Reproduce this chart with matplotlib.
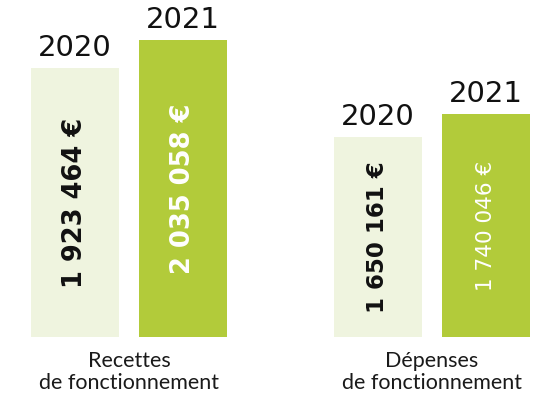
import numpy as np
from matplotlib import pyplot as plt

# data
groups = ['Recettes\nde fonctionnement', 'Dépenses\nde fonctionnement']
years = ['2020', '2021']
values_2020 = [1923464, 1650161]
values_2021 = [2035058, 1740046]

light = '#EFF4DF'
green = '#B2CB3A'


def euro(v):
    return f'{v:,}'.replace(',', ' ') + ' €'


fig = plt.figure(figsize=(5.57, 4.01), dpi=100)
ax = fig.add_axes([0, 64 / 401, 1, 337 / 401])

centers = np.array([0.0, 2.8])
width = 0.81
x20 = centers - 0.5
x21 = centers + 0.5

ax.bar(x20, values_2020, width=width, color=light)
ax.bar(x21, values_2021, width=width, color=green)

# the picture does not start its bars at zero
ax.set_ylim(853500, 2196000)
ax.set_xlim(-1.193, 3.957)
ax.axis('off')

# year above each bar
for xs, vals, yr in [(x20, values_2020, years[0]), (x21, values_2021, years[1])]:
    for x, v in zip(xs, vals):
        ax.annotate(yr, (x, v), xytext=(0, 9), textcoords='offset points',
                    ha='center', va='baseline', fontsize=21, color='#111111')

# value inside each bar
ymin = ax.get_ylim()[0]
sizes_20 = [18.5, 16.5]
sizes_21 = [18.5, 15.5]
weights_21 = ['bold', 'normal']
for x, v, s in zip(x20, values_2020, sizes_20):
    ax.text(x, (v + ymin) / 2, euro(v), rotation=90, ha='center', va='center',
            fontsize=s, fontweight='bold', color='#111111')
for x, v, s, w in zip(x21, values_2021, sizes_21, weights_21):
    ax.text(x, (v + ymin) / 2, euro(v), rotation=90, ha='center', va='center',
            fontsize=s, fontweight=w, color='white')

# group names under the bars
for c, g in zip(centers, groups):
    ax.annotate(g, (c, 0), xycoords=('data', 'axes fraction'), xytext=(0, -10),
                textcoords='offset points', ha='center', va='top',
                multialignment='center', fontsize=15.5, family='Lato',
                linespacing=1.12, color='#1a1a1a', annotation_clip=False)

fig.savefig('out.png', dpi=100)
